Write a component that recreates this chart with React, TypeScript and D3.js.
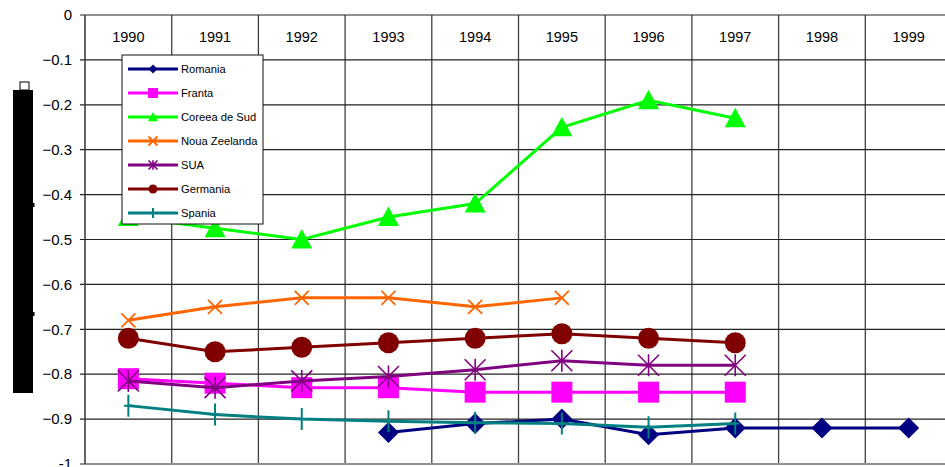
import React from "react";
import * as d3 from "d3";

const years = ["1990", "1991", "1992", "1993", "1994", "1995", "1996", "1997", "1998", "1999"];
const yTicks = [0, -0.1, -0.2, -0.3, -0.4, -0.5, -0.6, -0.7, -0.8, -0.9, -1];

const romania = [null, null, null, -0.93, -0.91, -0.9, -0.935, -0.92, -0.92, -0.92];
const franta = [-0.81, -0.82, -0.83, -0.83, -0.84, -0.84, -0.84, -0.84, null, null];
const coreea = [-0.45, -0.475, -0.5, -0.45, -0.42, -0.25, -0.19, -0.23, null, null];
const nouaZeelanda = [-0.68, -0.65, -0.63, -0.63, -0.65, -0.63, null, null, null, null];
const sua = [-0.815, -0.83, -0.815, -0.805, -0.79, -0.77, -0.78, -0.78, null, null];
const germania = [-0.72, -0.75, -0.74, -0.73, -0.72, -0.71, -0.72, -0.73, null, null];
const spania = [-0.87, -0.89, -0.9, -0.905, -0.908, -0.91, -0.918, -0.91, null, null];

const seriesNames = ["Romania", "Franta", "Coreea de Sud", "Noua Zeelanda", "SUA", "Germania", "Spania"];
const seriesValues = [romania, franta, coreea, nouaZeelanda, sua, germania, spania];
const seriesColors = ["#000080", "#FF00FF", "#00FF00", "#FF6600", "#800080", "#800000", "#008080"];
const seriesMarkers = ["diamond", "square", "triangle", "x", "asterisk", "circle", "plus"];

const W = 945;
const H = 467;
const left = 85;
const right = 952;
const top = 15;
const bottom = 464;
const font = "'Liberation Sans', Arial, sans-serif";

function Marker({ type, x, y, s, color }: { type: string; x: number; y: number; s: number; color: string }) {
  switch (type) {
    case "diamond":
      return <path d={`M${x},${y - s}L${x + s},${y}L${x},${y + s}L${x - s},${y}Z`} fill={color} />;
    case "square":
      return <rect x={x - s} y={y - s} width={2 * s} height={2 * s} fill={color} />;
    case "triangle":
      return <path d={`M${x},${y - s}L${x + s},${y + s * 0.85}L${x - s},${y + s * 0.85}Z`} fill={color} />;
    case "circle":
      return <circle cx={x} cy={y} r={s} fill={color} />;
    case "x":
      return (
        <path d={`M${x - s},${y - s}L${x + s},${y + s}M${x - s},${y + s}L${x + s},${y - s}`} stroke={color} strokeWidth={1.8} />
      );
    case "asterisk":
      return (
        <path
          d={`M${x - s},${y - s}L${x + s},${y + s}M${x - s},${y + s}L${x + s},${y - s}M${x},${y - s * 1.05}L${x},${y + s * 1.05}`}
          stroke={color}
          strokeWidth={1.6}
        />
      );
    case "plus":
      return <path d={`M${x},${y - s}L${x},${y + s}M${x - s * 0.4},${y}L${x + s * 0.4},${y}`} stroke={color} strokeWidth={2} />;
    default:
      return null;
  }
}

const markerSize: Record<string, number> = {
  diamond: 10.5,
  square: 10.5,
  triangle: 10.5,
  circle: 10.5,
  x: 7,
  asterisk: 10.5,
  plus: 11,
};
const legendSize: Record<string, number> = {
  diamond: 4.5,
  square: 5,
  triangle: 5,
  circle: 4.5,
  x: 4.5,
  asterisk: 4.5,
  plus: 5,
};

export default function App() {
  const x = d3.scaleBand<string>().domain(years).range([left, right]).paddingInner(0).paddingOuter(0);
  const y = d3.scaleLinear().domain([-1, 0]).range([bottom, top]);
  const cx = (yr: string) => (x(yr) as number) + x.bandwidth() / 2;

  const line = d3
    .line<number | null>()
    .defined((d) => d !== null)
    .x((_, i) => cx(years[i]))
    .y((d) => y(d as number));

  const legendX = 122;
  const legendY = 55;
  const legendW = 141;
  const legendH = 169;

  return (
    <svg
      width={W}
      height={H}
      style={{ position: "absolute", left: 0, top: 0, background: "#fff" }}
      fontFamily={font}
    >
      <rect x={0} y={0} width={W} height={H} fill="#fff" />
      {/* odd left black bar (rendered axis title) */}
      <rect x={13} y={90} width={20} height={303} fill="#000" />
      <rect x={20} y={82} width={9} height={8} fill="#fff" stroke="#000" strokeWidth={1} />
      <rect x={33} y={203} width={1.5} height={4} fill="#000" />
      <rect x={33} y={312} width={1.5} height={4} fill="#000" />

      {/* vertical gridlines */}
      {years.slice(1).map((yr) => (
        <line key={yr} x1={x(yr)} x2={x(yr)} y1={top} y2={bottom} stroke="#404040" strokeWidth={1.3} />
      ))}
      {/* horizontal gridlines + ticks */}
      {yTicks.map((t) => (
        <line
          key={t}
          x1={left - 5}
          x2={right}
          y1={y(t)}
          y2={y(t)}
          stroke={t === -1 ? "#909090" : "#222"}
          strokeWidth={t === -1 ? 2 : 1.2}
        />
      ))}
      {/* left axis */}
      <line x1={left} x2={left} y1={top} y2={bottom} stroke="#333" strokeWidth={1.5} />
      {yTicks.map((t) => (
        <text key={"l" + t} x={72} y={y(t)} dy="0.35em" textAnchor="end" fontSize={15} fill="#000">
          {t === 0 ? "0" : t === -1 ? "-1" : d3.format(".1f")(t)}
        </text>
      ))}
      {/* year labels */}
      {years.map((yr) => (
        <text key={"y" + yr} x={cx(yr)} y={42} textAnchor="middle" fontSize={14.5} fill="#000">
          {yr}
        </text>
      ))}

      {/* series */}
      {seriesValues.map((vals, si) => (
        <g key={seriesNames[si]}>
          <path d={line(vals) || ""} fill="none" stroke={seriesColors[si]} strokeWidth={3} />
          {vals.map((v, i) =>
            v === null ? null : (
              <Marker
                key={i}
                type={seriesMarkers[si]}
                x={cx(years[i])}
                y={y(v)}
                s={markerSize[seriesMarkers[si]]}
                color={seriesColors[si]}
              />
            )
          )}
        </g>
      ))}

      {/* legend */}
      <rect x={legendX} y={legendY} width={legendW} height={legendH} fill="#fff" stroke="#111" strokeWidth={1} />
      {seriesNames.map((name, i) => {
        const ly = 69 + i * 24;
        return (
          <g key={"lg" + name}>
            <line x1={128} x2={178} y1={ly} y2={ly} stroke={seriesColors[i]} strokeWidth={3} />
            <Marker type={seriesMarkers[i]} x={153} y={ly} s={legendSize[seriesMarkers[i]]} color={seriesColors[i]} />
            <text x={181} y={ly} dy="0.35em" fontSize={11.2} fill="#000">
              {name}
            </text>
          </g>
        );
      })}
    </svg>
  );
}
